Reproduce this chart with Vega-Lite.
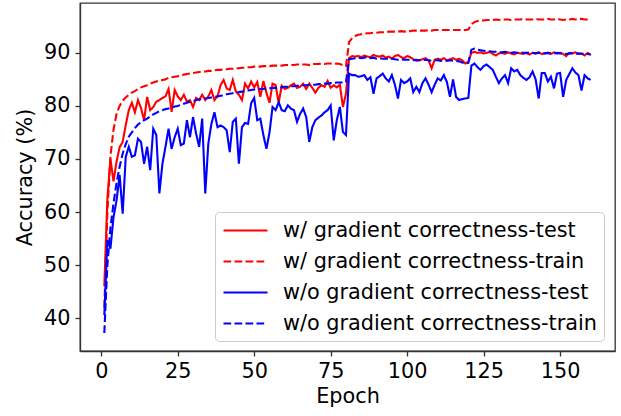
{
  "$schema": "https://vega.github.io/schema/vega-lite/v6.json",
  "width": 535,
  "height": 348,
  "autosize": {"type": "none"},
  "padding": {"left": 80, "top": 3, "right": 6, "bottom": 65},
  "background": "white",
  "data": {"values": [
    {"e":1,"wt":46.0,"wr":42.0,"ot":40.6,"or":37.2},
    {"e":2,"wt":62.5,"wr":60.0,"ot":54.7,"or":50.0},
    {"e":3,"wt":70.0,"wr":70.5,"ot":53.1,"or":57.0},
    {"e":4,"wt":65.8,"wr":75.5,"ot":59.0,"or":61.6},
    {"e":5,"wt":69.5,"wr":78.5,"ot":62.2,"or":65.5},
    {"e":6,"wt":72.2,"wr":80.0,"ot":67.0,"or":68.5},
    {"e":7,"wt":73.2,"wr":81.0,"ot":59.7,"or":71.0},
    {"e":8,"wt":76.4,"wr":81.6,"ot":70.4,"or":72.8},
    {"e":9,"wt":79.2,"wr":82.1,"ot":72.3,"or":74.2},
    {"e":10,"wt":80.6,"wr":82.5,"ot":70.4,"or":75.0},
    {"e":11,"wt":78.8,"wr":82.8,"ot":70.7,"or":75.8},
    {"e":12,"wt":81.1,"wr":83.2,"ot":73.8,"or":76.5},
    {"e":13,"wt":79.6,"wr":83.5,"ot":73.2,"or":76.9},
    {"e":14,"wt":77.3,"wr":83.7,"ot":69.1,"or":77.3},
    {"e":15,"wt":81.7,"wr":83.9,"ot":72.3,"or":77.6},
    {"e":16,"wt":79.2,"wr":84.2,"ot":67.9,"or":78.0},
    {"e":17,"wt":79.8,"wr":84.4,"ot":75.7,"or":78.4},
    {"e":18,"wt":80.8,"wr":84.6,"ot":74.5,"or":78.7},
    {"e":19,"wt":81.1,"wr":84.8,"ot":63.5,"or":79.0},
    {"e":20,"wt":81.5,"wr":84.9,"ot":69.1,"or":79.2},
    {"e":21,"wt":81.8,"wr":85.0,"ot":72.3,"or":79.4},
    {"e":22,"wt":83.2,"wr":85.3,"ot":75.7,"or":79.5},
    {"e":23,"wt":78.9,"wr":85.4,"ot":71.9,"or":79.7},
    {"e":24,"wt":83.0,"wr":85.5,"ot":74.1,"or":79.9},
    {"e":25,"wt":81.8,"wr":85.6,"ot":75.7,"or":80.0},
    {"e":26,"wt":81.1,"wr":85.7,"ot":72.6,"or":80.2},
    {"e":27,"wt":82.1,"wr":85.9,"ot":72.9,"or":80.4},
    {"e":28,"wt":80.8,"wr":86.0,"ot":77.3,"or":80.6},
    {"e":29,"wt":81.1,"wr":86.1,"ot":74.1,"or":80.8},
    {"e":30,"wt":79.8,"wr":86.2,"ot":77.9,"or":80.9},
    {"e":31,"wt":81.5,"wr":86.3,"ot":74.8,"or":81.1},
    {"e":32,"wt":81.1,"wr":86.4,"ot":72.3,"or":81.2},
    {"e":33,"wt":82.1,"wr":86.4,"ot":77.6,"or":81.3},
    {"e":34,"wt":81.1,"wr":86.5,"ot":63.5,"or":81.4},
    {"e":35,"wt":81.8,"wr":86.6,"ot":72.9,"or":81.5},
    {"e":36,"wt":83.0,"wr":86.6,"ot":76.6,"or":81.6},
    {"e":37,"wt":81.1,"wr":86.7,"ot":78.8,"or":81.7},
    {"e":38,"wt":81.8,"wr":86.8,"ot":76.0,"or":81.8},
    {"e":39,"wt":83.9,"wr":86.8,"ot":76.3,"or":81.9},
    {"e":40,"wt":84.9,"wr":86.9,"ot":76.0,"or":82.0},
    {"e":41,"wt":83.3,"wr":86.9,"ot":75.4,"or":82.2},
    {"e":42,"wt":83.0,"wr":87.0,"ot":71.3,"or":82.3},
    {"e":43,"wt":84.9,"wr":87.0,"ot":77.0,"or":82.4},
    {"e":44,"wt":82.7,"wr":87.1,"ot":77.6,"or":82.5},
    {"e":45,"wt":82.1,"wr":87.1,"ot":69.1,"or":82.6},
    {"e":46,"wt":81.1,"wr":87.2,"ot":76.0,"or":82.7},
    {"e":47,"wt":84.2,"wr":87.2,"ot":76.8,"or":82.8},
    {"e":48,"wt":83.3,"wr":87.3,"ot":76.6,"or":82.9},
    {"e":49,"wt":84.6,"wr":87.3,"ot":80.5,"or":83.0},
    {"e":50,"wt":83.5,"wr":87.4,"ot":81.5,"or":83.1},
    {"e":51,"wt":84.5,"wr":87.4,"ot":77.3,"or":83.1},
    {"e":52,"wt":81.7,"wr":87.4,"ot":77.6,"or":83.2},
    {"e":53,"wt":84.7,"wr":87.5,"ot":74.5,"or":83.2},
    {"e":54,"wt":82.5,"wr":87.5,"ot":71.9,"or":83.3},
    {"e":55,"wt":80.6,"wr":87.5,"ot":75.0,"or":83.3},
    {"e":56,"wt":84.2,"wr":87.6,"ot":79.8,"or":83.4},
    {"e":57,"wt":83.9,"wr":87.6,"ot":79.2,"or":83.4},
    {"e":58,"wt":80.6,"wr":87.6,"ot":80.7,"or":83.5},
    {"e":59,"wt":83.8,"wr":87.6,"ot":79.2,"or":83.5},
    {"e":60,"wt":83.2,"wr":87.7,"ot":79.0,"or":83.6},
    {"e":61,"wt":83.4,"wr":87.7,"ot":80.1,"or":83.6},
    {"e":62,"wt":83.9,"wr":87.7,"ot":79.5,"or":83.7},
    {"e":63,"wt":84.2,"wr":87.7,"ot":79.2,"or":83.7},
    {"e":64,"wt":83.4,"wr":87.8,"ot":77.0,"or":83.8},
    {"e":65,"wt":83.6,"wr":87.8,"ot":78.5,"or":83.8},
    {"e":66,"wt":84.2,"wr":87.8,"ot":79.5,"or":83.9},
    {"e":67,"wt":83.2,"wr":87.8,"ot":77.9,"or":83.9},
    {"e":68,"wt":84.2,"wr":87.7,"ot":73.2,"or":84.0},
    {"e":69,"wt":83.4,"wr":87.9,"ot":76.0,"or":84.0},
    {"e":70,"wt":82.5,"wr":87.9,"ot":77.3,"or":84.0},
    {"e":71,"wt":83.4,"wr":87.9,"ot":77.8,"or":84.1},
    {"e":72,"wt":83.9,"wr":88.0,"ot":78.2,"or":84.1},
    {"e":73,"wt":83.6,"wr":87.9,"ot":78.8,"or":84.2},
    {"e":74,"wt":84.7,"wr":88.0,"ot":79.2,"or":84.2},
    {"e":75,"wt":83.4,"wr":88.0,"ot":80.1,"or":84.3},
    {"e":76,"wt":83.9,"wr":87.9,"ot":73.5,"or":84.3},
    {"e":77,"wt":83.5,"wr":88.0,"ot":77.3,"or":84.4},
    {"e":78,"wt":84.0,"wr":87.9,"ot":79.8,"or":84.4},
    {"e":79,"wt":79.8,"wr":87.7,"ot":75.1,"or":84.4},
    {"e":80,"wt":82.3,"wr":87.5,"ot":74.5,"or":84.5},
    {"e":81,"wt":89.0,"wr":92.0,"ot":86.1,"or":88.8},
    {"e":82,"wt":89.4,"wr":92.8,"ot":85.8,"or":88.9},
    {"e":83,"wt":89.3,"wr":93.2,"ot":85.8,"or":89.0},
    {"e":84,"wt":89.4,"wr":93.4,"ot":85.5,"or":89.1},
    {"e":85,"wt":89.2,"wr":93.5,"ot":85.6,"or":89.0},
    {"e":86,"wt":89.5,"wr":93.6,"ot":85.8,"or":89.1},
    {"e":87,"wt":89.3,"wr":93.7,"ot":84.9,"or":89.2},
    {"e":88,"wt":89.2,"wr":93.7,"ot":85.4,"or":89.0},
    {"e":89,"wt":89.6,"wr":93.8,"ot":82.3,"or":89.1},
    {"e":90,"wt":89.4,"wr":93.8,"ot":85.2,"or":88.9},
    {"e":91,"wt":89.3,"wr":93.9,"ot":85.6,"or":89.0},
    {"e":92,"wt":89.5,"wr":93.9,"ot":86.1,"or":88.9},
    {"e":93,"wt":89.1,"wr":93.9,"ot":85.2,"or":88.9},
    {"e":94,"wt":89.3,"wr":94.0,"ot":84.6,"or":88.8},
    {"e":95,"wt":88.9,"wr":94.0,"ot":85.8,"or":88.9},
    {"e":96,"wt":89.4,"wr":94.0,"ot":84.0,"or":88.8},
    {"e":97,"wt":89.6,"wr":94.0,"ot":81.4,"or":88.7},
    {"e":98,"wt":89.2,"wr":94.1,"ot":84.9,"or":88.8},
    {"e":99,"wt":89.0,"wr":94.0,"ot":84.3,"or":88.7},
    {"e":100,"wt":89.4,"wr":94.1,"ot":84.6,"or":88.7},
    {"e":101,"wt":89.2,"wr":94.1,"ot":85.2,"or":88.7},
    {"e":102,"wt":88.8,"wr":94.2,"ot":82.6,"or":88.6},
    {"e":103,"wt":88.5,"wr":94.2,"ot":83.6,"or":88.7},
    {"e":104,"wt":88.6,"wr":94.2,"ot":82.6,"or":88.6},
    {"e":105,"wt":88.8,"wr":94.2,"ot":84.3,"or":88.6},
    {"e":106,"wt":89.0,"wr":94.2,"ot":85.2,"or":88.7},
    {"e":107,"wt":88.6,"wr":94.3,"ot":84.0,"or":88.6},
    {"e":108,"wt":87.1,"wr":94.2,"ot":82.6,"or":88.5},
    {"e":109,"wt":88.7,"wr":94.3,"ot":84.0,"or":88.6},
    {"e":110,"wt":88.9,"wr":94.3,"ot":85.2,"or":88.6},
    {"e":111,"wt":88.7,"wr":94.3,"ot":84.8,"or":88.5},
    {"e":112,"wt":89.0,"wr":94.3,"ot":85.8,"or":88.6},
    {"e":113,"wt":88.6,"wr":94.3,"ot":84.5,"or":88.5},
    {"e":114,"wt":88.8,"wr":94.3,"ot":81.7,"or":88.6},
    {"e":115,"wt":89.0,"wr":94.3,"ot":85.0,"or":88.5},
    {"e":116,"wt":88.7,"wr":94.3,"ot":81.7,"or":88.5},
    {"e":117,"wt":88.9,"wr":94.3,"ot":81.1,"or":88.4},
    {"e":118,"wt":88.6,"wr":94.3,"ot":81.3,"or":88.2},
    {"e":119,"wt":88.0,"wr":94.3,"ot":81.4,"or":88.0},
    {"e":120,"wt":88.3,"wr":94.4,"ot":81.5,"or":88.1},
    {"e":121,"wt":90.0,"wr":95.4,"ot":87.6,"or":90.6},
    {"e":122,"wt":90.2,"wr":95.8,"ot":88.0,"or":90.8},
    {"e":123,"wt":90.0,"wr":96.0,"ot":87.3,"or":90.6},
    {"e":124,"wt":90.1,"wr":96.1,"ot":86.8,"or":90.5},
    {"e":125,"wt":89.9,"wr":96.1,"ot":87.5,"or":90.4},
    {"e":126,"wt":90.0,"wr":96.2,"ot":87.8,"or":90.3},
    {"e":127,"wt":90.2,"wr":96.2,"ot":87.3,"or":90.3},
    {"e":128,"wt":89.8,"wr":96.2,"ot":86.8,"or":90.2},
    {"e":129,"wt":89.5,"wr":96.3,"ot":85.5,"or":90.2},
    {"e":130,"wt":89.9,"wr":96.2,"ot":84.3,"or":90.1},
    {"e":131,"wt":90.0,"wr":96.3,"ot":85.2,"or":90.1},
    {"e":132,"wt":89.8,"wr":96.3,"ot":85.8,"or":90.2},
    {"e":133,"wt":90.1,"wr":96.3,"ot":84.3,"or":90.1},
    {"e":134,"wt":89.9,"wr":96.2,"ot":87.1,"or":90.0},
    {"e":135,"wt":89.7,"wr":96.3,"ot":86.5,"or":90.1},
    {"e":136,"wt":90.0,"wr":96.3,"ot":86.8,"or":90.0},
    {"e":137,"wt":89.9,"wr":96.3,"ot":85.8,"or":90.1},
    {"e":138,"wt":89.8,"wr":96.4,"ot":85.3,"or":90.0},
    {"e":139,"wt":90.0,"wr":96.3,"ot":84.9,"or":90.0},
    {"e":140,"wt":89.7,"wr":96.3,"ot":85.4,"or":90.0},
    {"e":141,"wt":90.0,"wr":96.3,"ot":86.5,"or":90.0},
    {"e":142,"wt":89.9,"wr":96.4,"ot":85.0,"or":89.9},
    {"e":143,"wt":90.1,"wr":96.3,"ot":81.4,"or":90.0},
    {"e":144,"wt":89.8,"wr":96.3,"ot":86.2,"or":90.0},
    {"e":145,"wt":89.9,"wr":96.3,"ot":86.2,"or":89.9},
    {"e":146,"wt":90.0,"wr":96.4,"ot":84.6,"or":90.0},
    {"e":147,"wt":89.8,"wr":96.3,"ot":85.5,"or":89.9},
    {"e":148,"wt":90.1,"wr":96.3,"ot":83.3,"or":89.9},
    {"e":149,"wt":89.9,"wr":96.4,"ot":86.1,"or":90.0},
    {"e":150,"wt":90.0,"wr":96.3,"ot":86.2,"or":89.9},
    {"e":151,"wt":89.8,"wr":96.2,"ot":81.7,"or":89.9},
    {"e":152,"wt":89.4,"wr":96.3,"ot":84.9,"or":89.8},
    {"e":153,"wt":90.0,"wr":96.3,"ot":86.0,"or":89.9},
    {"e":154,"wt":89.9,"wr":96.4,"ot":87.1,"or":89.9},
    {"e":155,"wt":90.1,"wr":96.3,"ot":86.3,"or":89.8},
    {"e":156,"wt":89.8,"wr":96.4,"ot":85.8,"or":89.9},
    {"e":157,"wt":89.9,"wr":96.4,"ot":82.9,"or":89.8},
    {"e":158,"wt":89.5,"wr":96.3,"ot":85.8,"or":89.9},
    {"e":159,"wt":90.0,"wr":96.3,"ot":85.2,"or":89.8},
    {"e":160,"wt":89.6,"wr":96.2,"ot":84.9,"or":89.7}
  ]},
  "transform": [{"fold": ["wt", "wr", "ot", "or"], "as": ["s", "acc"]}],
  "mark": {"type": "line", "strokeWidth": 2.1, "clip": true},
  "encoding": {
    "x": {"field": "e", "type": "quantitative",
      "scale": {"domain": [-6.95, 167.95], "nice": false, "zero": false},
      "axis": {"values": [0, 25, 50, 75, 100, 125, 150], "title": "Epoch", "titlePadding": 6}},
    "y": {"field": "acc", "type": "quantitative",
      "scale": {"domain": [33.8, 99.4], "nice": false, "zero": false},
      "axis": {"values": [40, 50, 60, 70, 80, 90], "title": "Accuracy (%)", "titlePadding": 8}},
    "color": {"field": "s", "type": "nominal",
      "scale": {"domain": ["wt", "wr", "ot", "or"], "range": ["#ff0000", "#ff0000", "#0000ff", "#0000ff"]},
      "legend": {"title": null, "labelExpr": "datum.value == 'wt' ? 'w/ gradient correctness-test' : datum.value == 'wr' ? 'w/ gradient correctness-train' : datum.value == 'ot' ? 'w/o gradient correctness-test' : 'w/o gradient correctness-train'"}},
    "strokeDash": {"field": "s", "type": "nominal",
      "scale": {"domain": ["wt", "wr", "ot", "or"], "range": [[1, 0], [7.7, 3.3], [1, 0], [7.7, 3.3]]},
      "legend": {"title": null, "labelExpr": "datum.value == 'wt' ? 'w/ gradient correctness-test' : datum.value == 'wr' ? 'w/ gradient correctness-train' : datum.value == 'ot' ? 'w/o gradient correctness-test' : 'w/o gradient correctness-train'"}}
  },
  "config": {
    "font": "DejaVu Sans",
    "view": {"stroke": "#333333", "strokeWidth": 1.3},
    "axis": {
      "grid": false, "labelFontSize": 20.8, "titleFontSize": 20.8, "titleFontWeight": "normal",
      "labelColor": "#000000", "titleColor": "#000000", "domainColor": "#333333", "domainWidth": 1.3,
      "tickColor": "#333333", "tickSize": 5, "tickWidth": 1.3, "labelPadding": 5, "labelFont": "DejaVu Sans", "titleFont": "DejaVu Sans"
    },
    "legend": {
      "orient": "none", "legendX": 135, "legendY": 209,
      "symbolType": "M-2.2,0H2.2", "symbolSize": 400, "symbolStrokeWidth": 2.1, "symbolOffset": 12,
      "labelFontSize": 20.8, "labelFont": "DejaVu Sans", "labelColor": "#000000", "labelOffset": 26, "labelLimit": 500,
      "padding": 7, "rowPadding": 9, "strokeColor": "#cccccc", "fillColor": "rgba(255,255,255,0.8)", "cornerRadius": 4
    }
  }
}
